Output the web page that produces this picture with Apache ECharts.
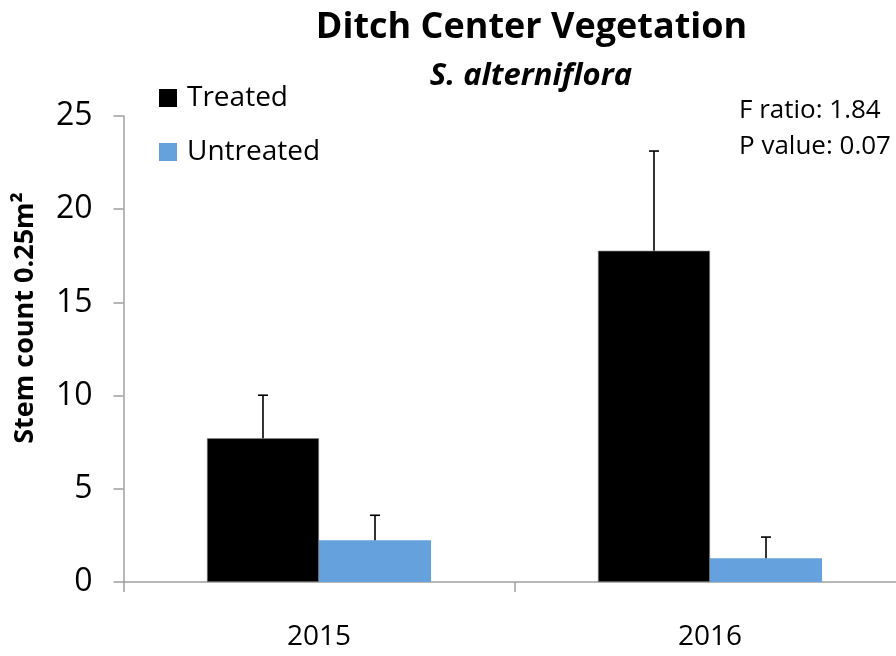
<!DOCTYPE html>
<html>
<head>
	<meta charset="utf-8">
	<title>Ditch Center Vegetation</title>
	<style>
		html, body { margin: 0; padding: 0; background: #fff; }
		#main { width: 896px; height: 656px; }
	</style>
	<script src="https://cdn.jsdelivr.net/npm/echarts@6/dist/echarts.min.js"></script>
</head>
<body>
	<div id="main"></div>
	<script>
		var years = ['2015', '2016'];
		var treated = [7.71, 17.77];
		var treatedErr = [2.31, 5.35];
		var untreated = [2.24, 1.27];
		var untreatedErr = [1.34, 1.14];
		var yTicks = [0, 5, 10, 15, 20, 25];

		var FONT = '"Open Sans", "Noto Sans", sans-serif';
		var GAP = 0.427; // barCategoryGap

		function errData(vals, errs) {
			return vals.map(function (v, i) { return [i, v, v + errs[i]]; });
		}

		function errRender(sign) {
			return function (params, api) {
				var band = api.size([1, 0])[0];
				var barW = band * (1 - GAP) / 2;
				var p0 = api.coord([api.value(0), api.value(1)]);
				var p1 = api.coord([api.value(0), api.value(2)]);
				var x = p0[0] + sign * barW / 2;
				var st = { stroke: '#000', lineWidth: 1.6 };
				return {
					type: 'group',
					children: [
						{ type: 'line', shape: { x1: x, y1: p0[1], x2: x, y2: p1[1] }, style: st },
						{ type: 'line', shape: { x1: x - 5, y1: p1[1], x2: x + 5, y2: p1[1] }, style: st }
					]
				};
			};
		}

		var chart = echarts.init(document.getElementById('main'));
		chart.setOption({
			animation: false,
			backgroundColor: '#fff',
			grid: { left: 123.5, right: -9.5, top: 116, bottom: 74, outerBoundsMode: 'none', containLabel: false },
			legend: {
				orient: 'vertical',
				left: 159,
				top: 84,
				padding: 0,
				itemGap: 26,
				itemWidth: 18,
				itemHeight: 18,
				icon: 'rect',
				itemStyle: { borderWidth: 0 },
				data: ['Treated', 'Untreated'],
				textStyle: { fontFamily: FONT, fontSize: 28, lineHeight: 28, color: '#000', padding: [0, 0, 0, 5] }
			},
			graphic: [
				{ type: 'text', x: 531.5, y: 28, style: { text: 'Ditch Center Vegetation', font: 'bold 36px ' + FONT, fill: '#000', align: 'center', verticalAlign: 'middle' } },
				{ type: 'text', x: 531, y: 76, style: { text: 'S. alterniflora', font: 'italic bold 31px ' + FONT, fill: '#000', align: 'center', verticalAlign: 'middle' } },
				{ type: 'text', x: 739, y: 110.5, style: { text: 'F ratio: 1.84', font: '26px ' + FONT, fill: '#000', align: 'left', verticalAlign: 'middle' } },
				{ type: 'text', x: 739, y: 146.5, style: { text: 'P value: 0.07', font: '26px ' + FONT, fill: '#000', align: 'left', verticalAlign: 'middle' } },
				{ type: 'text', x: 25.5, y: 318, rotation: Math.PI / 2, style: { text: 'Stem count 0.25m²', font: 'bold 27px ' + FONT, fill: '#000', align: 'center', verticalAlign: 'middle' } }
			],
			xAxis: {
				type: 'category',
				data: years,
				axisLine: { lineStyle: { color: '#a0a0a0', width: 1.5 } },
				axisTick: { show: true, length: 10, lineStyle: { color: '#a0a0a0', width: 1.5 } },
				axisLabel: { margin: 41, fontFamily: FONT, fontSize: 28, color: '#000' }
			},
			yAxis: {
				type: 'value',
				min: 0,
				max: 25,
				interval: 5,
				axisLine: { show: true, lineStyle: { color: '#a0a0a0', width: 1.5 } },
				axisTick: { show: true, length: 10, lineStyle: { color: '#a0a0a0', width: 1.5 } },
				splitLine: { show: false },
				axisLabel: {
					margin: 31, fontFamily: FONT, fontSize: 32, color: '#000',
					formatter: function (v) { return yTicks.indexOf(v) >= 0 ? String(v) : ''; }
				}
			},
			series: [
				{
					name: 'Treated', type: 'bar', data: treated,
					barGap: 0, barCategoryGap: (GAP * 100) + '%',
					itemStyle: { color: '#000', borderColor: '#888', borderWidth: 0.6 }
				},
				{
					name: 'Untreated', type: 'bar', data: untreated,
					barGap: 0, barCategoryGap: (GAP * 100) + '%',
					itemStyle: { color: '#65a1dd' }
				},
				{ type: 'custom', data: errData(treated, treatedErr), renderItem: errRender(-1), z: 5, silent: true },
				{ type: 'custom', data: errData(untreated, untreatedErr), renderItem: errRender(1), z: 5, silent: true }
			]
		});
	</script>
</body>
</html>
